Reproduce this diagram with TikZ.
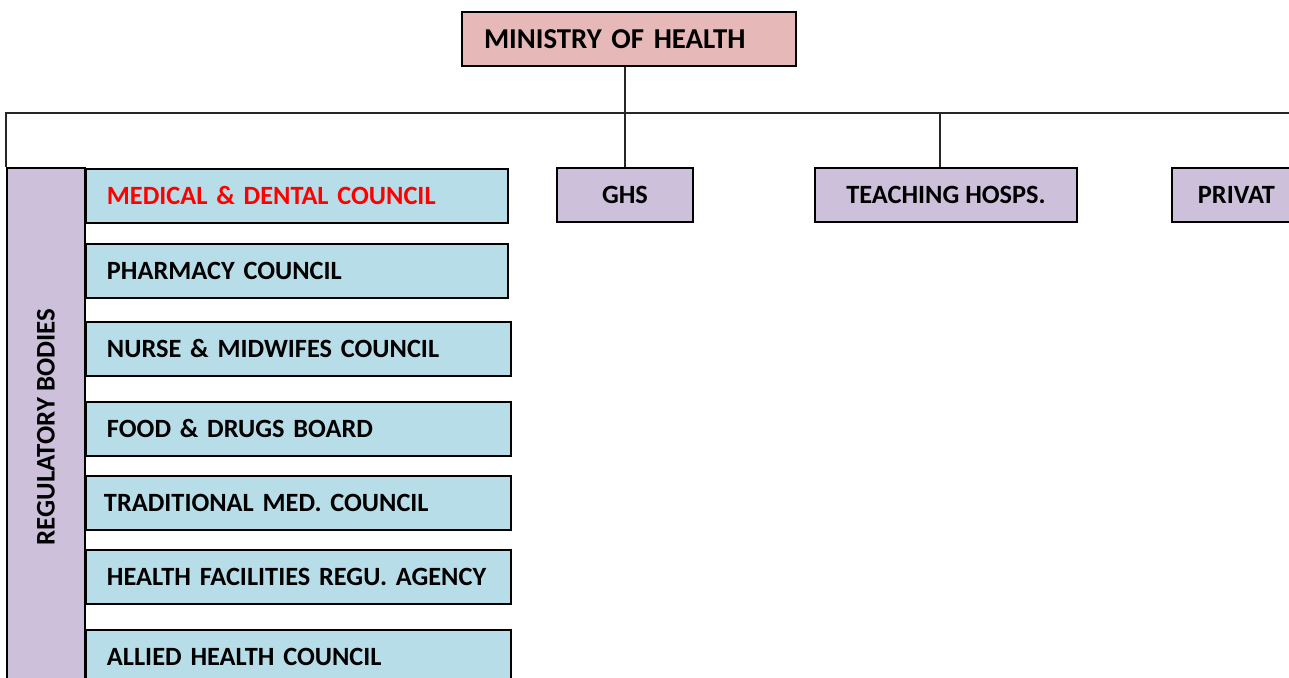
\documentclass[tikz,border=0pt]{standalone}
\usepackage{fontspec}
\usepackage{graphicx}
\setmainfont{Carlito}
\usepackage{tikz}

\definecolor{mohpink}{HTML}{E6B8B7}
\definecolor{unitlilac}{HTML}{CCC0DA}
\definecolor{councilblue}{HTML}{B7DEE8}

\tikzset{
  box/.style={shape=rectangle, draw=black, line width=1.1pt, inner sep=0pt,
    font=\fontsize{15}{17}\selectfont\bfseries},
  moh/.style={box, fill=mohpink, minimum width=6.68cm, minimum height=1.08cm,
    align=left, text width=5.8cm, inner xsep=0.44cm,
    font=\fontsize{16.4}{19}\selectfont\bfseries},
  unit/.style={box, fill=unitlilac, minimum height=1.08cm},
  council/.style={box, fill=councilblue, anchor=north west, minimum height=1.08cm,
    align=left, inner xsep=0.42cm},
  link/.style={-, line width=0.85pt, draw=black!85},
}

\begin{document}
\begin{tikzpicture}[x=0.02cm, y=-0.02cm]
    \useasboundingbox (0, 0) rectangle (1289, 677);
    \clip (0, 0) rectangle (1289, 677);

    \node[moh] (moh) at (629, 39) {MINISTRY OF HEALTH};

    \node[unit, minimum width=1.56cm, minimum height=10.36cm,
          font=\fontsize{15.3}{17}\selectfont\bfseries] (reg) at (46, 427)
        {\rotatebox{90}{REGULATORY BODIES}};

    \node[council, text width=7.6cm, text=red] (mdc) at (85, 168) {MEDICAL \& DENTAL COUNCIL};
    \node[council, text width=7.6cm] (pc) at (85, 243) {PHARMACY COUNCIL};
    \node[council, text width=7.66cm] (nmc) at (85, 321) {NURSE \& MIDWIFES COUNCIL};
    \node[council, text width=7.66cm] (fdb) at (85, 401) {FOOD \& DRUGS BOARD};
    \node[council, text width=7.78cm, inner xsep=0.36cm] (tmc) at (85, 475) {TRADITIONAL MED. COUNCIL};
    \node[council, text width=7.66cm] (hfra) at (85, 549) {HEALTH FACILITIES REGU. AGENCY};
    \node[council, text width=7.66cm] (ahc) at (85, 629) {ALLIED HEALTH COUNCIL};

    \node[unit, minimum width=2.72cm] (ghs) at (625, 195) {GHS};
    \node[unit, minimum width=5.24cm] (teach) at (946, 195) {TEACHING HOSPS.};
    \node[unit, anchor=west, align=left, text width=3.8cm, inner xsep=0.52cm] (priv) at (1171, 195) {PRIVAT};

    \coordinate (busend) at (1300, 113);

    \draw[link] (ghs.north) -- (ghs.north |- moh.south);
    \draw[link] (reg.north west) |- (busend);
    \draw[link] ([xshift=-0.12cm]teach.north) -- ([xshift=-0.12cm]teach.north |- busend);

\end{tikzpicture}
\end{document}
